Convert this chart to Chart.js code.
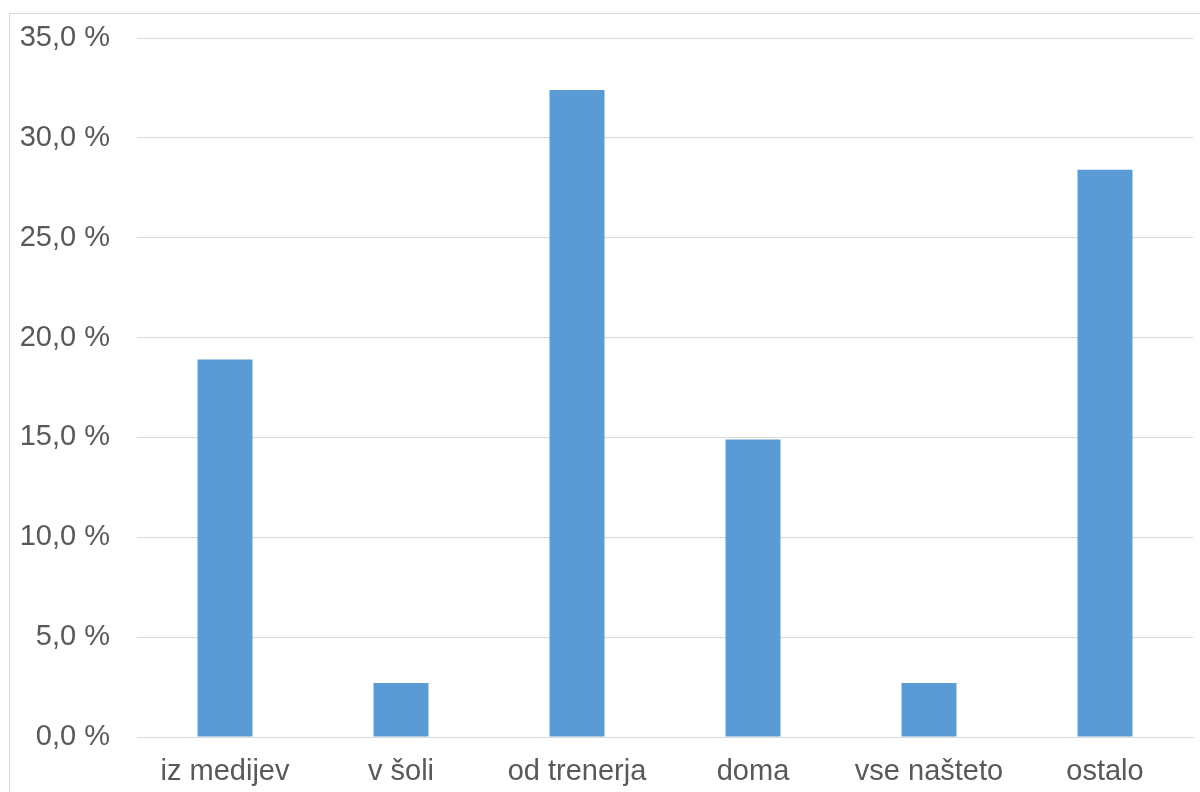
<!DOCTYPE html>
<html>
<head>
<meta charset="utf-8">
<script src="https://cdn.jsdelivr.net/npm/chart.js@4/dist/chart.umd.min.js"></script>
<style>
  html, body { margin: 0; padding: 0; background: #ffffff; overflow: hidden; }
  #wrap { position: relative; width: 1200px; height: 792px; }
  #frame { position: absolute; left: 9px; top: 13px; width: 1300px; height: 900px;
           border-top: 1px solid #d9d9d9; border-left: 1px solid #d9d9d9; box-sizing: border-box; }
  canvas { position: absolute; left: 0; top: 0; }
</style>
</head>
<body>
<div id="wrap">
  <div id="frame"></div>
  <canvas id="c" width="1200" height="792"></canvas>
</div>
<script>
// Kje so se naučili – deleži odgovorov
const categories = ['iz medijev', 'v šoli', 'od trenerja', 'doma', 'vse našteto', 'ostalo'];
const shares = [18.9, 2.7, 32.4, 14.9, 2.7, 28.4];
const yMin = 0;
const yMax = 35;
const yStep = 5;

const fmtPct = v => v.toFixed(1).replace('.', ',') + ' %';
const textColor = '#595959';
const fontSpec = { family: '"Liberation Sans", Arial, sans-serif', size: 29 };

new Chart(document.getElementById('c'), {
  type: 'bar',
  data: {
    labels: categories,
    datasets: [{
      data: shares,
      backgroundColor: '#5b9bd5',
      borderWidth: 0,
      categoryPercentage: 1,
      barPercentage: 0.3125
    }]
  },
  options: {
    responsive: false,
    animation: false,
    devicePixelRatio: 1,
    layout: { padding: { left: 0, right: 7, top: 38, bottom: 0 } },
    plugins: { legend: { display: false }, tooltip: { enabled: false } },
    scales: {
      x: {
        grid: { display: false, drawTicks: false },
        border: { display: true, color: '#d9d9d9', width: 1 },
        ticks: { color: textColor, font: fontSpec, padding: 18, maxRotation: 0, autoSkip: false },
        afterFit: s => { s.height = 55; s.paddingLeft = 0; s.paddingRight = 0; }
      },
      y: {
        min: yMin,
        max: yMax,
        grid: { color: '#d9d9d9', lineWidth: 1, drawTicks: false },
        border: { display: false },
        ticks: { stepSize: yStep, color: textColor, font: fontSpec, padding: 27,
                 callback: v => fmtPct(v) },
        afterFit: s => { s.width = 137; s.paddingTop = 0; s.paddingBottom = 0; }
      }
    }
  }
});
</script>
</body>
</html>
